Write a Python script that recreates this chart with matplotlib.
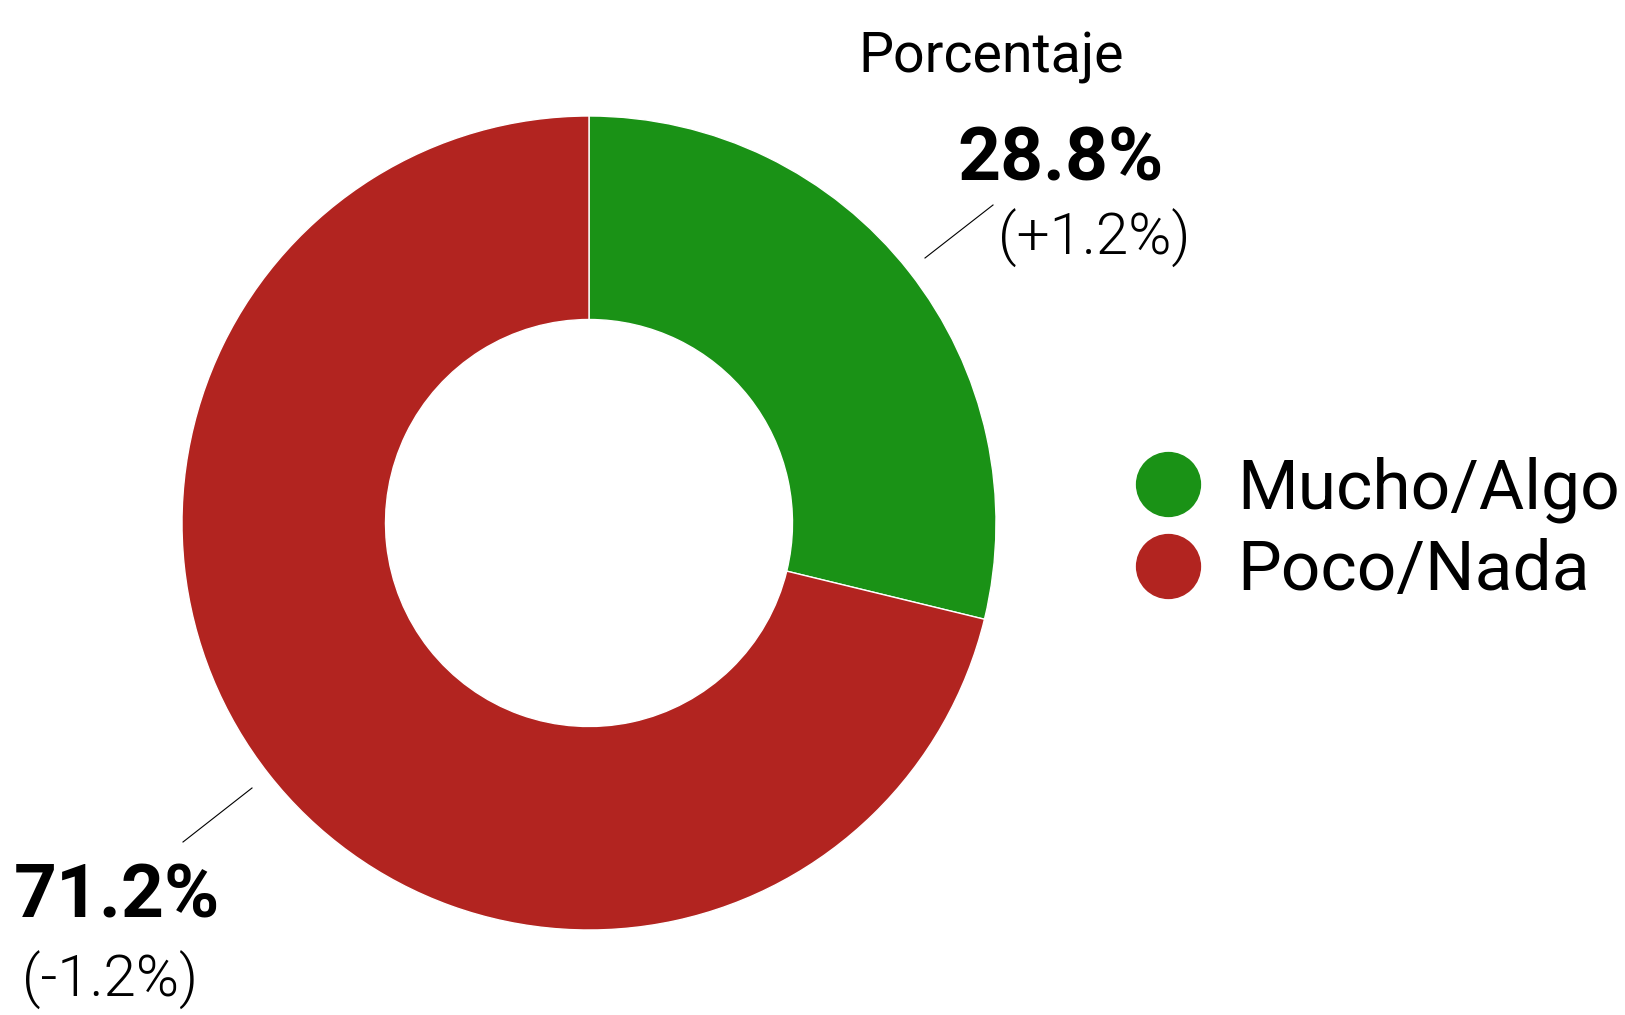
import matplotlib.pyplot as plt
from matplotlib.lines import Line2D

# ---------------------------------------------------------------------------
# Data
# ---------------------------------------------------------------------------
categories = ["Mucho/Algo", "Poco/Nada"]
shares = [28.8, 71.2]
changes = [1.2, -1.2]
colors = ["#1a9216", "#b22420"]

plt.rcParams["font.family"] = ["Roboto", "DejaVu Sans"]

W, H = 1625, 1015
fig = plt.figure(figsize=(W / 100, H / 100), dpi=100)
ax = fig.add_axes([0, 0, 1, 1])

# Donut, clockwise from 12 o'clock
cx, cy, r = 589, H - 523, 407
ax.pie(shares, colors=colors, startangle=90, counterclock=False,
       center=(cx, cy), radius=r, frame=True,
       wedgeprops=dict(width=r / 2, edgecolor="white", linewidth=1))
ax.set_xlim(0, W)
ax.set_ylim(0, H)
ax.set_aspect("equal")
ax.axis("off")

ax.text(991, H - 72, "Porcentaje", ha="center", va="baseline", fontsize=40)

# Value labels with leader lines
ax.text(1061, H - 180, f"{shares[0]:.1f}%", ha="center", va="baseline",
        fontsize=54, fontweight="bold")
ax.text(1094, H - 255, f"({changes[0]:+.1f}%)", ha="center", va="baseline",
        fontsize=42, fontweight=300)
ax.plot([925, 993], [H - 258, H - 205], color="black", linewidth=0.8)

ax.text(117, H - 918, f"{shares[1]:.1f}%", ha="center", va="baseline",
        fontsize=54, fontweight="bold")
ax.text(110, H - 997, f"({changes[1]:+.1f}%)", ha="center", va="baseline",
        fontsize=42, fontweight=300)
ax.plot([183, 252], [H - 842, H - 788], color="black", linewidth=0.8)

# Legend
handles = [Line2D([], [], marker="o", linestyle="none", markersize=46,
                  markerfacecolor=c, markeredgecolor=c) for c in colors]
ax.legend(handles, categories, loc="center left",
          bbox_to_anchor=(1133 / W, 1 - 530 / H), frameon=False,
          fontsize=50, labelspacing=0.22, handletextpad=0.5,
          handlelength=1.0, borderpad=0, borderaxespad=0)

plt.savefig("out.png", dpi=100)
